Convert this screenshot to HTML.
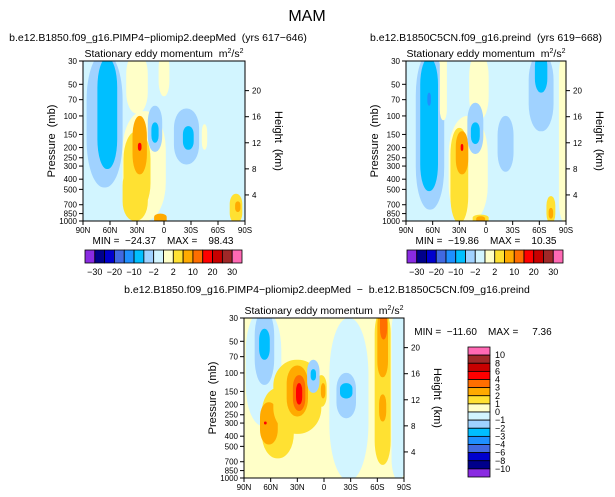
<!DOCTYPE html>
<html><head><meta charset="utf-8">
<style>
body{margin:0;background:#fff;}
svg{display:block;font-family:"Liberation Sans",sans-serif;}
.pre{white-space:pre;}
</style></head>
<body>
<svg id="fig" width="615" height="497" viewBox="0 0 615 497" xmlns="http://www.w3.org/2000/svg">
<text x="307" y="21" font-size="16" text-anchor="middle">MAM</text>
<g id="root"></g>
</svg>
<script>
const colors=["#8a2be2","#00008b","#0000cd","#4169e1","#1e90ff","#00bfff","#a0d2ff","#d2f5ff","#ffffc8","#ffe132","#ffaa00","#ff6e00","#ff0000","#c80000","#a02828","#ff69b4"];
const pTicks=[30,50,70,100,150,200,250,300,400,500,700,850,1000];
const hTicks=[4,8,12,16,20];
const latTicks=[90,60,30,0,-30,-60,-90];
const latLabels=["90N","60N","30N","0","30S","60S","90S"];
const topBarLabels=["-30","-20","-10","-2","2","10","20","30"];
const diffBarLabels=["10","8","6","4","3","2","1","0","-1","-2","-3","-4","-6","-8","-10"];
// blobs: [lat, latHalfWidth, pTop, pBottom, colorIndex]
const blobs1=[[66,20,25,480,6],[63,11,28,320,5],[22,24,90,1000,8],[30,12,25,95,8],[0,6,25,65,8],
[30,15,140,800,9],[32,14,300,1000,9],[27,8,100,360,10],[27,2,180,215,12],[10,8,80,220,6],[10,4,115,180,5],
[-25,14,85,290,6],[-27,6,125,210,5],[4,7,850,1050,10],[-45,3,120,210,8],[-80,7,550,1050,9],[-82,3,650,820,10]];
const blobs2=[[63,16,25,780,6],[64,10,28,520,5],[64,2,60,80,4],[20,22,100,1050,8],[8,11,25,110,8],[48,4,25,110,8],
[30,10,130,1050,9],[27,7,140,360,10],[27,1.5,185,215,12],[12,9,75,230,6],[12,5,115,185,5],[-22,9,100,340,6],
[-62,14,25,140,6],[-62,7,25,60,5],[-73,5,580,1050,9],[-73,2.5,750,950,10],[6,9,870,1050,9],[6,5,900,1050,10],[-90,8,25,1050,8]];
const blobsD=[[-28,22,30,1050,7],[-84,8,25,1050,7],[68,20,25,320,7],[67,11,25,130,6],[67,6,38,75,5],
[-66,9,25,750,9],[-66,6,25,110,10],[-67,4,25,48,11],[-66,4,160,290,10],
[52,18,140,650,9],[62,10,190,480,10],[66,1.5,290,310,12],[30,27,75,380,9],[30,12,85,260,10],[28,7,105,230,11],[28,3.5,125,200,12],
[3,6,105,210,9],[1,2.5,125,175,10],[12,7,75,155,6],[12,3,92,118,5],[-25,11,100,270,6],[-25,7,125,175,5],[-20,6,350,600,7]];
const NS="http://www.w3.org/2000/svg";
const root=document.getElementById('root');
function mk(tag,attrs,parent,txt){const e=document.createElementNS(NS,tag);for(const k in attrs)e.setAttribute(k,attrs[k]);if(txt!==undefined)e.textContent=txt;(parent||root).appendChild(e);return e;}
function panel(L,T,W,H,blobs,bg,name,title){
  const g=mk('g',{});
  
  
  const xs=lat=>L+(90-lat)/180*W;
  const ys=p=>T+H-H*Math.log(1000/p)/Math.log(1000/30);
  const cid=name+'-clip';
  const cp=mk('clipPath',{id:cid},g);mk('rect',{x:L,y:T,width:W,height:H},cp);
  const fg=mk('g',{'clip-path':'url(#'+cid+')'},g);
  mk('rect',{x:L,y:T,width:W,height:H,fill:bg},fg);
  blobs.forEach(b=>{
    const y1=ys(b[2]),y2=ys(b[3]);
    const w=2*b[1]/180*W,h=y2-y1;
    const e=mk('rect',{x:xs(b[0])-w/2,y:y1,width:w,height:h,rx:w*0.48,ry:Math.min(h*0.35,w*1.5),fill:colors[b[4]]},fg);
    
    
  });
  mk('rect',{x:L,y:T,width:W,height:H,fill:'none',stroke:'#000','stroke-width':1},g);
  pTicks.forEach(p=>{const y=ys(p);mk('line',{x1:L-4,x2:L,y1:y,y2:y,stroke:'#000'},g);
    mk('text',{x:L-6,y:y+3,'font-size':8,'text-anchor':'end'},g,p);});
  hTicks.forEach(h=>{const p=1000*Math.exp(-h/7);const y=ys(p);mk('line',{x1:L+W,x2:L+W+4,y1:y,y2:y,stroke:'#000'},g);
    mk('text',{x:L+W+7,y:y+3,'font-size':8},g,h);});
  latTicks.forEach((l,i)=>{const x=xs(l);mk('line',{x1:x,x2:x,y1:T+H,y2:T+H+4,stroke:'#000'},g);
    mk('text',{x:x,y:T+H+12,'font-size':8,'text-anchor':'middle'},g,latLabels[i]);});
  const yl=mk('text',{x:0,y:0,'font-size':11,'text-anchor':'middle',class:'pre',transform:`translate(${L-28},${T+H/2}) rotate(-90)`},g,'Pressure  (mb)');
  
  const hl=mk('text',{x:0,y:0,'font-size':11,'text-anchor':'middle',class:'pre',transform:`translate(${L+W+30},${T+H/2}) rotate(90)`},g,'Height  (km)');
  
  const st=mk('text',{x:L+W/2,y:T-4,'font-size':10.5,'text-anchor':'middle',class:'pre'},g);
  st.innerHTML='Stationary eddy momentum  m<tspan dy="-4" font-size="7">2</tspan><tspan dy="4">/s</tspan><tspan dy="-4" font-size="7">2</tspan>';
  
  if(title){const t=mk('text',{x:title[1],y:title[2],'font-size':10.5,'text-anchor':'middle',class:'pre'},root,title[0]);
    }
}
function hbar(L,T,W,H,name,minmax,mx){
  const g=mk('g',{});
  
  const n=colors.length,bw=W/n;
  colors.forEach((c,i)=>mk('rect',{x:L+i*bw,y:T,width:bw,height:H,fill:c,stroke:'#000','stroke-width':0.8},g));
  topBarLabels.forEach((s,i)=>mk('text',{x:L+(i*2+1)*bw,y:T+H+12,'font-size':9,'text-anchor':'middle'},g,s.replace('-','\u2212')));
  const m=mk('text',{x:mx,y:T-6,'font-size':10,'text-anchor':'middle',class:'pre'},g,minmax);
  
}
function vbar(L,T,W,H){
  const g=mk('g',{});
  
  const n=colors.length,bh=H/n;
  colors.slice().reverse().forEach((c,i)=>mk('rect',{x:L,y:T+i*bh,width:W,height:bh,fill:c,stroke:'#000','stroke-width':0.8},g));
  diffBarLabels.forEach((s,i)=>mk('text',{x:L+W+5,y:T+(i+1)*bh+3,'font-size':9},g,s.replace('-','\u2212')));
}
panel(83,61,162,160,blobs1,colors[7],'panel-ctrl',['b.e12.B1850.f09_g16.PIMP4\u2212pliomip2.deepMed  (yrs 617\u2212646)',158,41]);
panel(406,61,160,160,blobs2,colors[7],'panel-preind',['b.e12.B1850C5CN.f09_g16.preind  (yrs 619\u2212668)',486,41]);
panel(244,318,160,160,blobsD,colors[8],'panel-diff',['b.e12.B1850.f09_g16.PIMP4\u2212pliomip2.deepMed  \u2212  b.e12.B1850C5CN.f09_g16.preind',327,293]);
hbar(85,250,157,13,'colorbar-left','MIN =  \u221224.37    MAX =    98.43',163);
hbar(407,250,156,13,'colorbar-right','MIN =  \u221219.86    MAX =    10.35',486);
const mm=mk('text',{x:483,y:335,'font-size':10,'text-anchor':'middle',class:'pre'},root,'MIN =  \u221211.60    MAX =     7.36');

vbar(468,347,22,130);
</script>
</body></html>
